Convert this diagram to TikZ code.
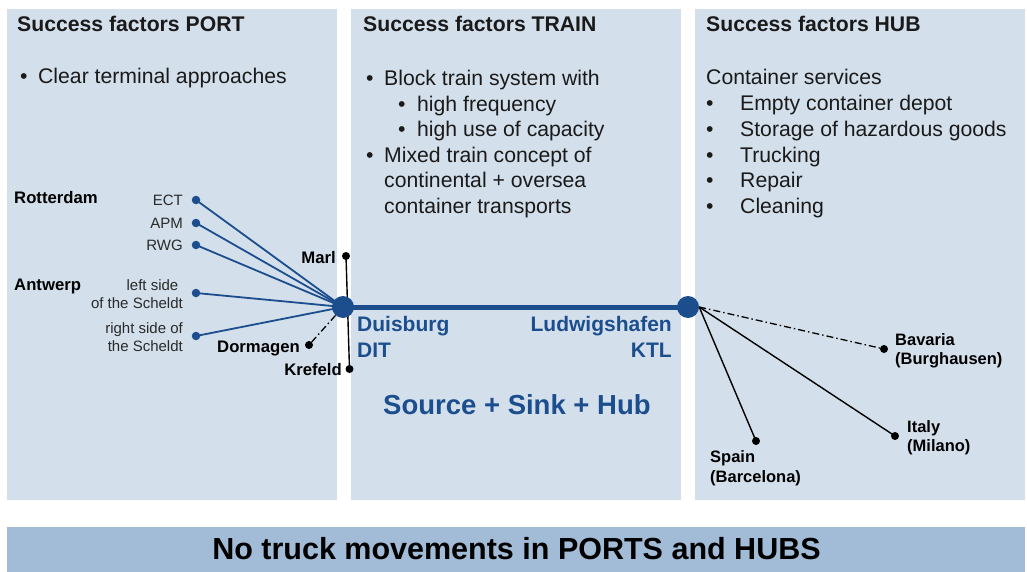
\documentclass[tikz,border=0pt]{standalone}
\usepackage{fontspec}
\setmainfont{Liberation Sans}
\pgfdeclarelayer{panels}
\pgfdeclarelayer{lines}
\pgfsetlayers{panels,lines,main}
\definecolor{panelc}{HTML}{D3DFEB}
\definecolor{barc}{HTML}{A2BBD6}
\definecolor{hubblue}{HTML}{1C4E8E}
\definecolor{txt}{HTML}{1A1A1A}
\definecolor{lbl}{HTML}{2A2A2A}
\tikzset{
  panel/.style={fill=panelc,draw=none},
  ttl/.style={anchor=base west,inner sep=0,text=txt,font=\fontsize{21.2}{24}\selectfont\bfseries},
  body/.style={anchor=base west,inner sep=0,text=txt,font=\fontsize{21.2}{24}\selectfont},
  sml/.style={anchor=base east,inner sep=0,text=lbl,font=\fontsize{15}{18}\selectfont},
  bl/.style={inner sep=0,text=black,font=\fontsize{16.7}{19}\selectfont\bfseries},
  rl/.style={inner sep=0,anchor=base west,text=black,font=\fontsize{16.5}{19}\selectfont\bfseries},
  city/.style={inner sep=0,text=hubblue,font=\fontsize{21}{25}\selectfont\bfseries},
  hubdot/.style={circle,fill=hubblue,minimum size=22pt,inner sep=0},
  bdot/.style={circle,fill=hubblue,minimum size=8.5pt,inner sep=0},
  kdot/.style={circle,fill=black,minimum size=8pt,inner sep=0},
  bline/.style={draw=hubblue,line width=1.8pt},
  kline/.style={draw=black,line width=1.4pt},
  ddline/.style={draw=black,line width=1.3pt,dash pattern=on 7pt off 3pt on 1.5pt off 3pt},
}
\newcommand{\bul}[1]{\makebox[#1][l]{\textbullet}}
\begin{document}
\begin{tikzpicture}[x=1pt,y=-1pt]
\useasboundingbox (0,0) rectangle (1027,572);
% panels
\begin{pgfonlayer}{panels}
\fill[panel] (7,9) rectangle (337,500);
\fill[panel] (351,9) rectangle (681,500);
\fill[panel] (695,9) rectangle (1025,500);
\fill[barc] (7,527) rectangle (1025,572);
\end{pgfonlayer}
% titles
\node[ttl] (t1) at (17,32) {Success factors PORT};
\node[ttl] (t2) at (363,32) {Success factors TRAIN};
\node[ttl] (t3) at (706,32) {Success factors HUB};
% port text
\node[body] (p1) at (20,84) {\bul{18pt}Clear terminal approaches};
% train text
\node[body] (m1) at (366,86) {\bul{18pt}Block train system with};
\node[body] (m2) at (398,111.5) {\bul{19pt}high frequency};
\node[body] (m3) at (398,137) {\bul{19pt}high use of capacity};
\node[body] (m4) at (366,162.5) {\bul{18pt}Mixed train concept of};
\node[body] (m5) at (384,188) {continental + oversea};
\node[body] (m6) at (384,213.5) {container transports};
% hub text
\node[body] (h0) at (706,85) {Container services};
\node[body] (h1) at (706,111) {\bul{34pt}Empty container depot};
\node[body] (h2) at (706,137) {\bul{34pt}Storage of hazardous goods};
\node[body] (h3) at (706,162.5) {\bul{34pt}Trucking};
\node[body] (h4) at (706,188) {\bul{34pt}Repair};
\node[body] (h5) at (706,213.5) {\bul{34pt}Cleaning};
% hubs
\node[hubdot] (dui) at (343,307) {};
\node[hubdot] (lud) at (688,307) {};
% port dots
\node[bdot] (ect) at (196,200) {};
\node[bdot] (apm) at (196,223) {};
\node[bdot] (rwg) at (196,245) {};
\node[bdot] (lsd) at (196,293) {};
\node[bdot] (rsd) at (196,336) {};
\node[kdot] (marl) at (346,256) {};
\node[kdot] (dorm) at (309,345) {};
\node[kdot] (kref) at (349.5,369) {};
% hub dots
\node[kdot] (bav) at (884,349) {};
\node[kdot] (ita) at (895,436) {};
\node[kdot] (spa) at (756,441) {};
% labels left
\node[bl,anchor=base west] (rot) at (14,204) {Rotterdam};
\node[bl,anchor=base west] (ant) at (14,290) {Antwerp};
\node[sml] (lect) at (183,205.5) {ECT};
\node[sml] (lapm) at (183,228.5) {APM};
\node[sml] (lrwg) at (183,250.5) {RWG};
\node[sml] (lls1) at (178.5,290) {left side};
\node[sml] (lls2) at (183,308) {of the Scheldt};
\node[sml] (lrs1) at (183,333.5) {right side of};
\node[sml] (lrs2) at (183,351.5) {the Scheldt};
\node[bl,anchor=base east] (lmarl) at (336,263) {Marl};
\node[bl,anchor=base east] (ldorm) at (300,352) {Dormagen};
\node[bl,anchor=base east] (lkref) at (342,375) {Krefeld};
% city labels
\node[city,anchor=base west] (ldui1) at (357,331) {Duisburg};
\node[city,anchor=base west] (ldui2) at (357,357) {DIT};
\node[city,anchor=base east] (llud1) at (672,331) {Ludwigshafen};
\node[city,anchor=base east] (llud2) at (672,357) {KTL};
\node[inner sep=0,anchor=base west,text=hubblue,font=\fontsize{27.5}{30}\selectfont\bfseries] (ssh) at (383,414) {Source + Sink + Hub};
% right labels
\node[rl] (lbav1) at (895,345) {Bavaria};
\node[rl] (lbav2) at (895,364.5) {(Burghausen)};
\node[rl] (lita1) at (907,432) {Italy};
\node[rl] (lita2) at (907,451.5) {(Milano)};
\node[rl] (lspa1) at (710,462) {Spain};
\node[rl] (lspa2) at (710,482) {(Barcelona)};
% bottom
\node[inner sep=0,text=black,font=\fontsize{30.5}{34}\selectfont\bfseries] (bot) at (516.5,549) {No truck movements in PORTS and HUBS};
% connectors
\begin{pgfonlayer}{lines}
\draw[bline] (ect.center) -- (dui.center);
\draw[bline] (apm.center) -- (dui.center);
\draw[bline] (rwg.center) -- (dui.center);
\draw[bline] (lsd.center) -- (dui.center);
\draw[bline] (rsd.center) -- (dui.center);
\draw[kline] (marl.center) -- (kref.center);
\draw[ddline] (dui) -- (dorm);
\draw[draw=hubblue,line width=5pt] (dui.center) -- (lud.center);
\draw[ddline] (lud.east) -- (bav.center);
\draw[kline] (lud.east) -- (ita.center);
\draw[kline] (lud.east) -- (spa.center);
\end{pgfonlayer}
\end{tikzpicture}
\end{document}
